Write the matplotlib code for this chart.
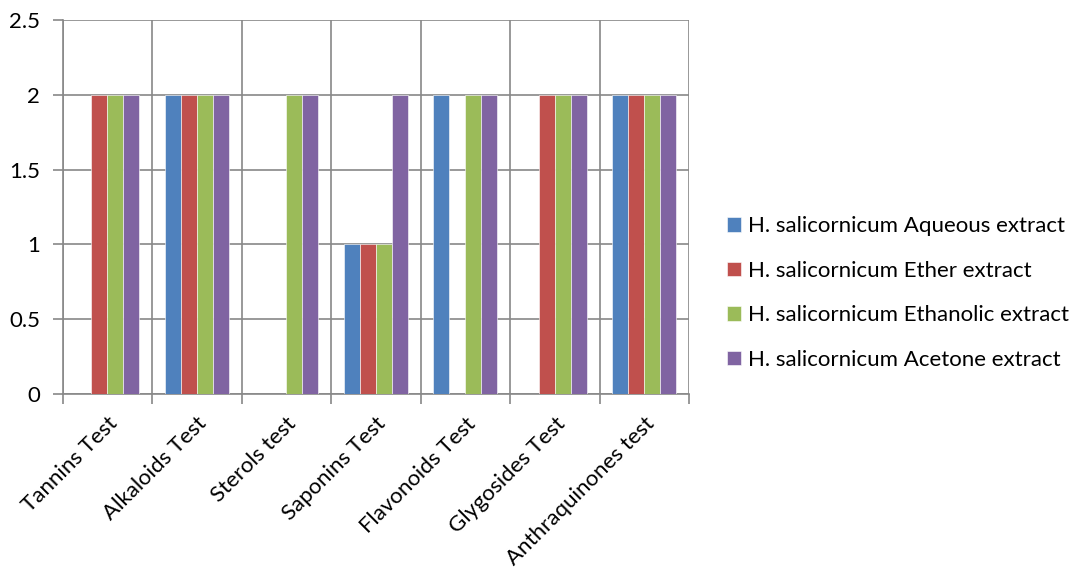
import matplotlib
matplotlib.use('Agg')
import matplotlib.pyplot as plt
import numpy as np

plt.rcParams['font.family'] = ['Lato', 'DejaVu Sans']

tests = ['Tannins Test', 'Alkaloids Test', 'Sterols test', 'Saponins Test',
         'Flavonoids Test', 'Glygosides Test', 'Anthraquinones test']
series_names = ['H. salicornicum Aqueous extract', 'H. salicornicum Ether extract',
                'H. salicornicum Ethanolic extract', 'H. salicornicum Acetone extract']
aqueous = [0, 2, 0, 1, 2, 0, 2]
ether = [2, 2, 0, 1, 0, 2, 2]
ethanolic = [2, 2, 2, 1, 2, 2, 2]
acetone = [2, 2, 2, 2, 2, 2, 2]
colors = ['#4F81BD', '#C0504D', '#9BBB59', '#8064A2']

fig = plt.figure(figsize=(10.72, 5.72), dpi=100)
ax = fig.add_axes([62.5/1072, 1-394/572, 626.5/1072, 374/572])

x = np.arange(len(tests))
w = 0.18
all_series = [aqueous, ether, ethanolic, acetone]
for i, vals in enumerate(all_series):
    ax.bar(x + (i - 1.5)*w, vals, w, color=colors[i], label=series_names[i],
           edgecolor='white', linewidth=0.4, zorder=3)

ax.set_xlim(-0.5, len(tests) - 0.5)
ax.set_ylim(0, 2.5)
ax.set_yticks([0, 0.5, 1, 1.5, 2, 2.5])
ax.set_yticklabels(['0', '0.5', '1', '1.5', '2', '2.5'], fontsize=16)

# category boundary grid lines
ax.set_xticks(np.arange(len(tests) + 1) - 0.5)
ax.set_xticklabels([])
ax.set_xticks(x, minor=True)
ax.set_xticklabels(tests, minor=True, rotation=45, ha='right', va='top',
                   rotation_mode='anchor', fontsize=16)
ax.tick_params(axis='x', which='minor', length=0, pad=14)
ax.tick_params(axis='x', which='major', length=7, color='#888888', width=1.2)
ax.tick_params(axis='y', length=7, color='#888888', width=1.2, pad=9)
ax.grid(True, which='major', color='#888888', linewidth=1.2, zorder=0)

for s in ['top', 'right']:
    ax.spines[s].set_visible(False)
for s in ['left', 'bottom']:
    ax.spines[s].set_color('#888888')
    ax.spines[s].set_linewidth(1.2)

fig.legend(loc='center left', bbox_to_anchor=(727/1072, 1-293/572), frameon=False,
           fontsize=16, handlelength=0.62, handleheight=0.62, labelspacing=1.1,
           handletextpad=0.32, borderpad=0, borderaxespad=0)

plt.savefig('out.png', dpi=100)
